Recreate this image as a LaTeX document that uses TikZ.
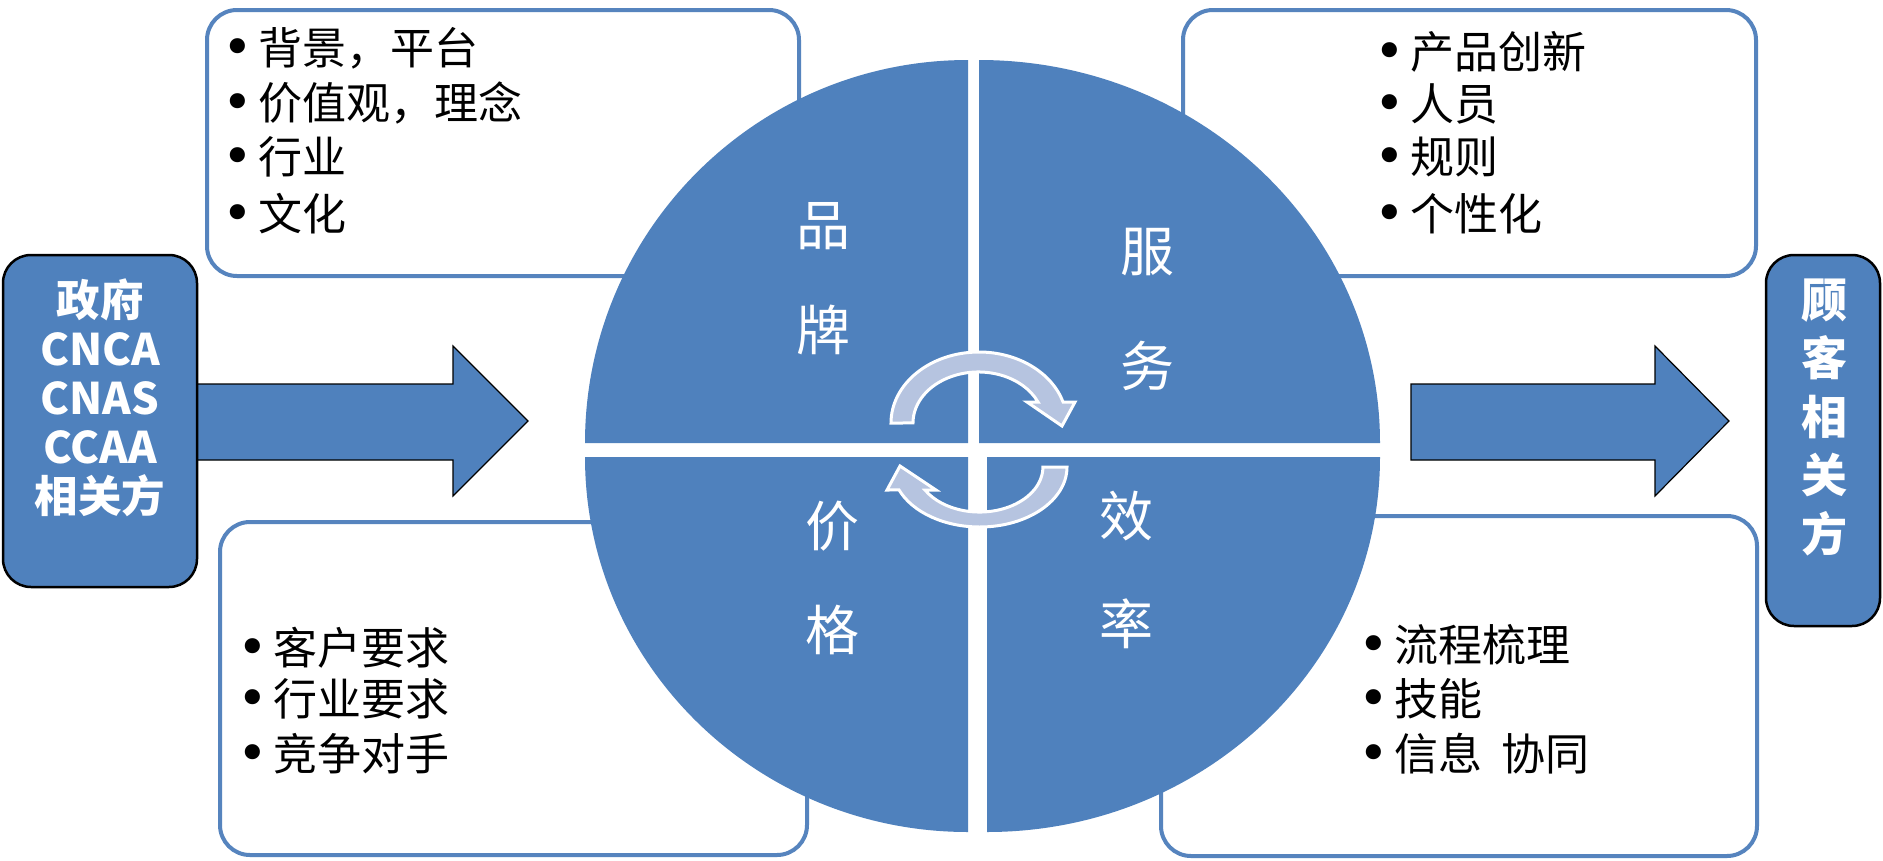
\documentclass[tikz,border=0pt]{standalone}
\usepackage{fontspec}
\newfontfamily\cjk{Noto Sans CJK SC}
\newfontfamily\dejavu{DejaVu Sans}
\definecolor{qblue}{RGB}{79,129,189}
\definecolor{cycfill}{RGB}{182,196,224}
\definecolor{boxline}{RGB}{86,132,190}
\begin{document}
\begin{tikzpicture}[x=1pt,y=-1pt,
  textbox/.style={draw=boxline, line width=4pt, fill=white, rounded corners=30pt, inner sep=0pt},
  bluebox/.style={draw=black, line width=2.5pt, fill=qblue, rounded corners=28pt, inner sep=0pt},
  bigarrow/.style={draw=black, line width=1.2pt, fill=qblue},
  quad/.style={fill=qblue},
  cyc/.style={fill=cycfill, draw=white, line width=3pt, line join=miter},
  item/.style={anchor=west, inner sep=0pt, text=black, font=\cjk\fontsize{44}{50}\selectfont},
  qlabel/.style={inner sep=0pt, text=white, font=\cjk\fontsize{54}{60}\selectfont},
  sidetext/.style={text=white, align=center, inner sep=0pt}
]
\useasboundingbox (0,0) rectangle (1883,860);
\fill[white] (0,0) rectangle (1883,860);

% text boxes
\node[textbox, minimum width=592pt, minimum height=266pt] (tl) at (503,143) {};
\node[textbox, minimum width=573pt, minimum height=266pt] (tr) at (1469.5,143) {};
\node[textbox, minimum width=587pt, minimum height=333pt] (bl) at (513.5,688.5) {};
\node[textbox, minimum width=596pt, minimum height=340pt] (br) at (1459,686) {};

% block arrows
\draw[bigarrow] (150,384) -- (453,384) -- (453,346) -- (528,421) -- (453,496) -- (453,460) -- (150,460) -- cycle;
\draw[bigarrow] (1411,384) -- (1655,384) -- (1655,346) -- (1729,421) -- (1655,496) -- (1655,460) -- (1411,460) -- cycle;

% side boxes
\node[bluebox, minimum width=194pt, minimum height=332pt] (gov) at (100,421) {};
\node[sidetext, font=\cjk\bfseries\fontsize{43.5}{49}\selectfont] (govtext) at (100,398) {政府\\CNCA\\CNAS\\CCAA\\相关方};
\node[bluebox, minimum width=114pt, minimum height=371pt] (cust) at (1823,440.5) {};
\node[sidetext, font=\cjk\bfseries\fontsize{46}{58.5}\selectfont] (custtext) at (1824,417) {顾\\客\\相\\关\\方};

% circle quadrants
\fill[quad] (968,443) -- (585,443) arc[start angle=180, end angle=270, x radius=383, y radius=383] -- cycle;
\fill[quad] (979,443) -- (979,60) arc[start angle=270, end angle=360, x radius=401, y radius=383] -- cycle;
\fill[quad] (968,457) -- (968,832) arc[start angle=90, end angle=180, x radius=383, y radius=375] -- cycle;
\fill[quad] (987,457) -- (1380,457) arc[start angle=0, end angle=90, x radius=393, y radius=375] -- cycle;

% cycle arrows
\draw[cyc] (891,423) arc[start angle=180, end angle=342.8, x radius=88, y radius=71]
  -- (1075,402) -- (1062,426) -- (1027,402) -- (1038,402)
  arc[start angle=335.7, end angle=180, x radius=65.4, y radius=51] -- cycle;
\draw[cyc] (1067,467) arc[start angle=0, end angle=157.5, x radius=87.3, y radius=60]
  -- (887,490) -- (900,466) -- (936,490) -- (925,490)
  arc[start angle=149.3, end angle=0, x radius=63.4, y radius=45] -- cycle;

% quadrant labels
\node[qlabel] (q1) at (823,226) {品};
\node[qlabel] (q2) at (823,330) {牌};
\node[qlabel] (q3) at (1147,252) {服};
\node[qlabel] (q4) at (1147,366) {务};
\node[qlabel] (q5) at (832,526) {价};
\node[qlabel] (q6) at (832,630) {格};
\node[qlabel] (q7) at (1126,516) {效};
\node[qlabel] (q8) at (1126,624) {率};

% items
\newcommand{\bul}{\makebox[36pt][l]{\raisebox{-1pt}{\dejavu\fontsize{52}{52}\selectfont •}}}
\node[item] (a1) at (222,48) {\bul 背景，平台};
\node[item] (a2) at (222,103) {\bul 价值观，理念};
\node[item] (a3) at (222,157) {\bul 行业};
\node[item] (a4) at (222,214) {\bul 文化};

\node[item] (b1) at (1374,52) {\bul 产品创新};
\node[item] (b2) at (1374,104) {\bul 人员};
\node[item] (b3) at (1374,157) {\bul 规则};
\node[item] (b4) at (1374,214) {\bul 个性化};

\node[item] (c1) at (237,648) {\bul 客户要求};
\node[item] (c2) at (237,699) {\bul 行业要求};
\node[item] (c3) at (237,754) {\bul 竞争对手};

\node[item] (d1) at (1358,645) {\bul 流程梳理};
\node[item] (d2) at (1358,699) {\bul 技能};
\node[item] (d3) at (1358,754) {\bul 信息\hspace{0.45em}协同};
\end{tikzpicture}
\end{document}
